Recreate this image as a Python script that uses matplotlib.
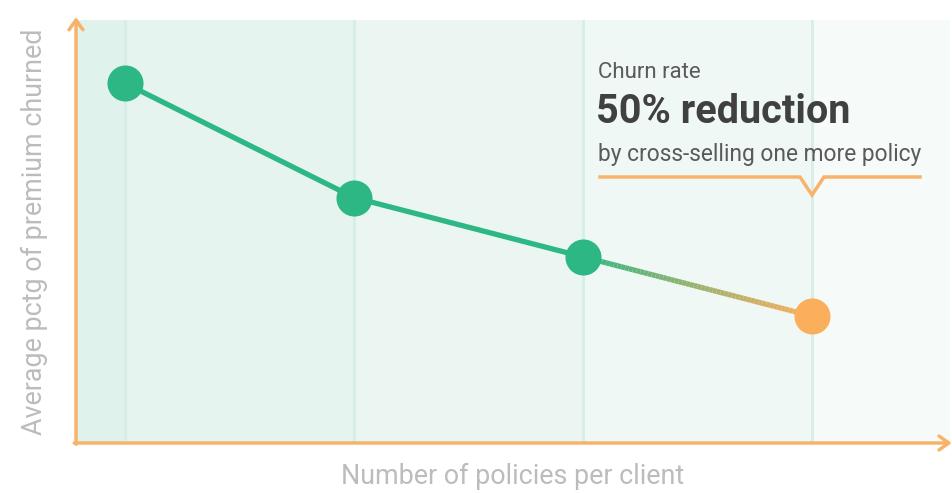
import numpy as np
import matplotlib
matplotlib.use("Agg")
import matplotlib.pyplot as plt
from matplotlib.collections import LineCollection
from matplotlib.colors import to_rgb

plt.rcParams['font.family'] = ['Roboto', 'DejaVu Sans']

# data (arbitrary units)
policies = [1, 2, 3, 4]
churn = [85, 58, 44, 30]

green = '#2db784'
orange = '#fbae5c'
axis_orange = '#f8b36a'
band_colors = ['#dff2ec', '#e5f4ef', '#ebf6f3', '#f0f8f6', '#f6fbfa']

fig = plt.figure(figsize=(9.53, 4.93), dpi=100)
ax = fig.add_axes([76 / 953, 50 / 493, 874 / 953, 423 / 493])
xmin, xmax = 0.784, 4.603
ax.set_xlim(xmin, xmax)
ax.set_ylim(0, 100)

# background bands and light vertical guides
edges = [xmin] + policies + [xmax]
for i in range(len(edges) - 1):
    ax.axvspan(edges[i], edges[i + 1], color=band_colors[i], lw=0, zorder=0)
for x in policies:
    ax.axvline(x, color='#d6eee7', lw=2, zorder=1)

# green line for the first segments
ax.plot(policies[:-1], churn[:-1], color=green, lw=3.8, zorder=3,
        solid_capstyle='round')

# last segment fades from green to orange
n = 60
xs = np.linspace(policies[-2], policies[-1], n + 1)
ys = np.linspace(churn[-2], churn[-1], n + 1)
segs = [[(xs[i], ys[i]), (xs[i + 1], ys[i + 1])] for i in range(n)]
c0, c1 = np.array(to_rgb(green)), np.array(to_rgb(orange))
t = np.linspace(0, 1, n) ** 0.9
cols = [c0 + (c1 - c0) * k for k in t]
ax.add_collection(LineCollection(segs, colors=cols, linewidths=3.8, zorder=3))

ax.scatter(policies[:-1], churn[:-1], s=36 ** 2 * 0.52, color=green, zorder=4, lw=0)
ax.scatter(policies[-1:], churn[-1:], s=36 ** 2 * 0.52, color=orange, zorder=4, lw=0)

# axes: only left and bottom, in orange, with open arrow heads
for s in ['top', 'right', 'left', 'bottom']:
    ax.spines[s].set_visible(False)
ax.set_xticks([])
ax.set_yticks([])
arrow = dict(arrowstyle='->,head_length=0.7,head_width=0.5', color=axis_orange,
             lw=2.5, shrinkA=0, shrinkB=0)
ax.annotate('', xy=(0, 1.007), xytext=(0, -0.003), xycoords='axes fraction',
            arrowprops=arrow, annotation_clip=False)
ax.annotate('', xy=(1.002, 0), xytext=(-0.002, 0), xycoords='axes fraction',
            arrowprops=arrow, annotation_clip=False)

ax.set_xlabel('Number of policies per client', fontsize=19.4, color='#bcbcbc',
              labelpad=14)
ax.set_ylabel('Average pctg of premium churned', fontsize=19.4, color='#bcbcbc',
              labelpad=20)

# annotation block
tx = (598 - 76) / 874
ax.text(tx, 1 - (72 - 20) / 423, 'Churn rate', transform=ax.transAxes,
        fontsize=16, color='#5a5a5a', va='center', ha='left')
ax.text(tx - 0.002, 1 - (112 - 20) / 423, '50% reduction', transform=ax.transAxes,
        fontsize=28.5, fontweight='bold', color='#404040', va='center', ha='left')
ax.text(tx, 1 - (155 - 20) / 423, 'by cross-selling one more policy',
        transform=ax.transAxes, fontsize=16.4, color='#5a5a5a', va='center', ha='left')

# bracket with a notch pointing at the last point
by = 1 - (177 - 20) / 423
bn = 1 - (195 - 20) / 423
bx = [(600 - 76) / 874, (800 - 76) / 874, (812 - 76) / 874, (824 - 76) / 874,
      (920 - 76) / 874]
ax.plot(bx, [by, by, bn, by, by], transform=ax.transAxes, color=axis_orange,
        lw=2.5, solid_joinstyle='miter', zorder=5)

fig.savefig('out.png', dpi=100, facecolor='white')
